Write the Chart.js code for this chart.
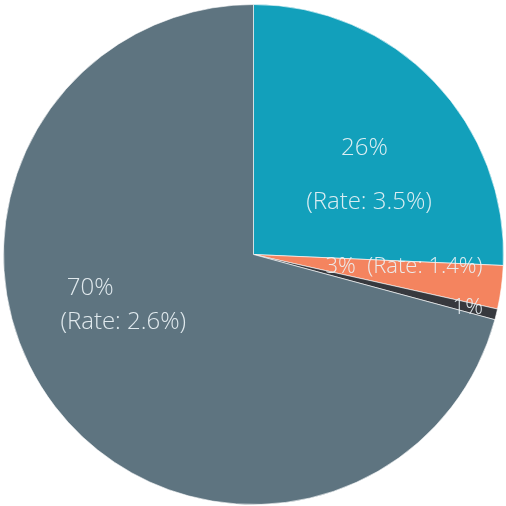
<!DOCTYPE html>
<html lang="en">
<head>
    <meta charset="UTF-8">
    <title>Share and rate pie</title>
    <script src="https://cdn.jsdelivr.net/npm/chart.js"></script>
    <style>
        html, body { margin: 0; padding: 0; background: #ffffff; }
        #wrap { width: 506px; height: 506px; }
    </style>
</head>
<body>
    <div id="wrap"><canvas id="pieChart"></canvas></div>

    <script>
        // slice data
        const categories = ["A", "B", "C", "D"];
        const shares = [25.7, 2.8, 0.7, 70.8];
        const shareLabels = ["26%", "3%", "1%", "70%"];
        const rateLabels = ["3.5%", "1.4%", null, "2.6%"];
        const colors = ["#12a0bb", "#f4845f", "#37393e", "#5e7480"];

        // where each label line sits, as fractions of the radius from the centre
        // (one entry per slice: list of lines [dx, dy, text kind, font px])
        const labelLayout = [
            [[0.444, -0.398, "share", 24], [0.462, -0.181, "rate", 24]],
            [[0.602, 0.074, "both", 22]],
            [[0.857, 0.237, "share", 22]],
            [[-0.653, 0.161, "share", 24], [-0.521, 0.299, "rate", 24]]
        ];

        const sliceLabels = {
            id: "sliceLabels",
            afterDatasetsDraw(chart) {
                const ctx = chart.ctx;
                const arcs = chart.getDatasetMeta(0).data;
                ctx.save();
                ctx.fillStyle = "rgba(236, 243, 246, 0.92)";
                ctx.textAlign = "center";
                ctx.textBaseline = "alphabetic";
                arcs.forEach((arc, i) => {
                    const { x, y, outerRadius } = arc.getProps(["x", "y", "outerRadius"], true);
                    labelLayout[i].forEach(([fx, fy, kind, size]) => {
                        let text = shareLabels[i];
                        if (kind === "rate") text = "(Rate: " + rateLabels[i] + ")";
                        if (kind === "both") text = shareLabels[i] + "  (Rate: " + rateLabels[i] + ")";
                        ctx.font = "300 " + size + "px 'Open Sans'";
                        ctx.fillText(text, x + fx * outerRadius, y + fy * outerRadius);
                    });
                });
                ctx.restore();
            }
        };

        new Chart(document.getElementById("pieChart"), {
            type: "pie",
            data: {
                labels: categories,
                datasets: [{
                    data: shares,
                    backgroundColor: colors,
                    borderColor: "rgba(255, 255, 255, 0.6)",
                    borderWidth: 1
                }]
            },
            options: {
                responsive: true,
                maintainAspectRatio: false,
                animation: false,
                layout: { padding: { left: 3, right: 2, top: 4, bottom: 1 } },
                plugins: {
                    legend: { display: false },
                    tooltip: { enabled: false }
                }
            },
            plugins: [sliceLabels]
        });
    </script>
</body>
</html>
